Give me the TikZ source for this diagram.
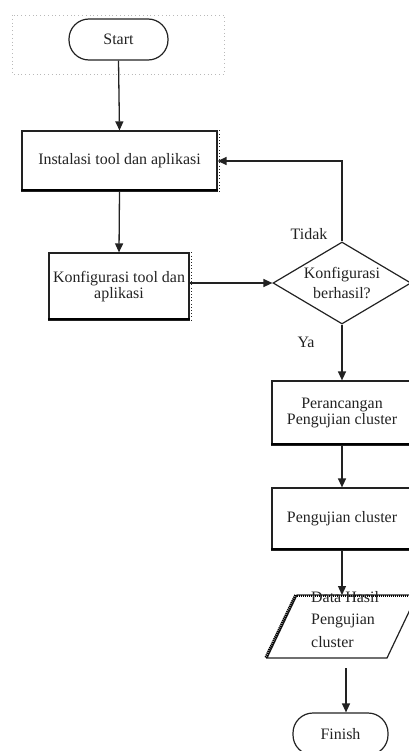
\documentclass[tikz,border=0pt]{standalone}
\usepackage{fontspec}
\setmainfont{Liberation Serif}
\usetikzlibrary{shapes.geometric,arrows.meta}
\definecolor{ink}{HTML}{222222}
\tikzset{
  procbox/.style={draw=ink, line width=1.2bp, rectangle, inner sep=0pt, align=center,
    font=\fontsize{16}{16.5}\selectfont, text=ink},
  termbox/.style={draw=ink, line width=1.2bp, rectangle, rounded corners=20bp, inner sep=0pt,
    font=\fontsize{16}{16.5}\selectfont, text=ink},
  decbox/.style={draw=ink, line width=1.2bp, diamond, inner sep=0pt, align=center,
    font=\fontsize{16}{20}\selectfont, text=ink},
  flow/.style={draw=ink, line width=1.3bp, -{Triangle[length=9bp,width=8bp]}},
  hatch/.style={draw=black, line width=2.6bp, dash pattern=on 1.3bp off 0.7bp},
  sidedots/.style={draw=ink, line width=1.2bp, dash pattern=on 1bp off 2.2bp},
  lbl/.style={font=\fontsize{16}{16.5}\selectfont, text=ink, inner sep=0pt}
}
\begin{document}
\begin{tikzpicture}[x=1bp,y=-1bp]
\useasboundingbox (0,0) rectangle (408,751);
% dotted frame around start
\draw[gray!55, line width=0.8bp, dash pattern=on 0.8bp off 3bp] (12,15) rectangle (224,74);

\node[termbox, minimum width=99bp, minimum height=41bp] (start) at (118.5,39.5) {Start};
\node[procbox, minimum width=195bp, minimum height=60bp] (inst) at (119.5,161) {Instalasi tool dan aplikasi};
\node[procbox, minimum width=140bp, minimum height=67bp] (konf) at (119,286.5) {Konfigurasi tool dan\\aplikasi};
\node[decbox, minimum width=138bp, minimum height=82bp, aspect=1.68] (dia) at (342,283) {Konfigurasi\\berhasil?};
\node[procbox, minimum width=140bp, minimum height=64bp] (per) at (342,413) {Perancangan\\Pengujian cluster};
\node[procbox, minimum width=140bp, minimum height=62bp] (peng) at (342,519) {Pengujian cluster};

% parallelogram
\coordinate (ptl) at (297,595);
\coordinate (ptr) at (417,595);
\coordinate (pbr) at (387,658);
\coordinate (pbl) at (267,658);
\coordinate (ptop) at (342,595);
\coordinate (pout) at (346,668);
\draw[ink, line width=1.2bp] (ptl) -- (ptr) -- (pbr) -- (pbl) -- cycle;
\draw[hatch] ([yshift=-1bp]ptl) -- ([yshift=-1bp]ptr);
\draw[hatch] ([xshift=-1.5bp]ptl) -- ([xshift=-1.5bp]pbl);
\node[lbl, align=left, font=\fontsize{16}{22.5}\selectfont, anchor=north west] (para) at (311,591) {Data Hasil\\Pengujian\\cluster};

\node[termbox, minimum width=95bp, minimum height=42bp] (fin) at (340.5,734) {Finish};

% shadow hatches on boxes
\foreach \n in {inst,konf,per,peng}{
  \draw[hatch] ([yshift=1.5bp]\n.south west) -- ([yshift=1.5bp]\n.south east);
  \draw[sidedots] ([xshift=1.5bp]\n.north east) -- ([xshift=1.5bp]\n.south east);
}

% connectors
\draw[flow] (start.south) -- (inst.north);
\draw[flow] (inst.south) -- (konf.north);
\draw[flow] (konf.east |- dia.west) -- (dia.west);
\draw[flow] (dia.north) -- (dia.north |- inst.east) -- (inst.east);
\draw[flow] (dia.south) -- (per.north);
\draw[flow] (per.south) -- (peng.north);
\draw[flow] (peng.south) -- (ptop);
\draw[flow] (pout) -- (pout |- fin.north);

\node[lbl] (tidak) at (309,234) {Tidak};
\node[lbl] (ya) at (306,342) {Ya};
\end{tikzpicture}
\end{document}
